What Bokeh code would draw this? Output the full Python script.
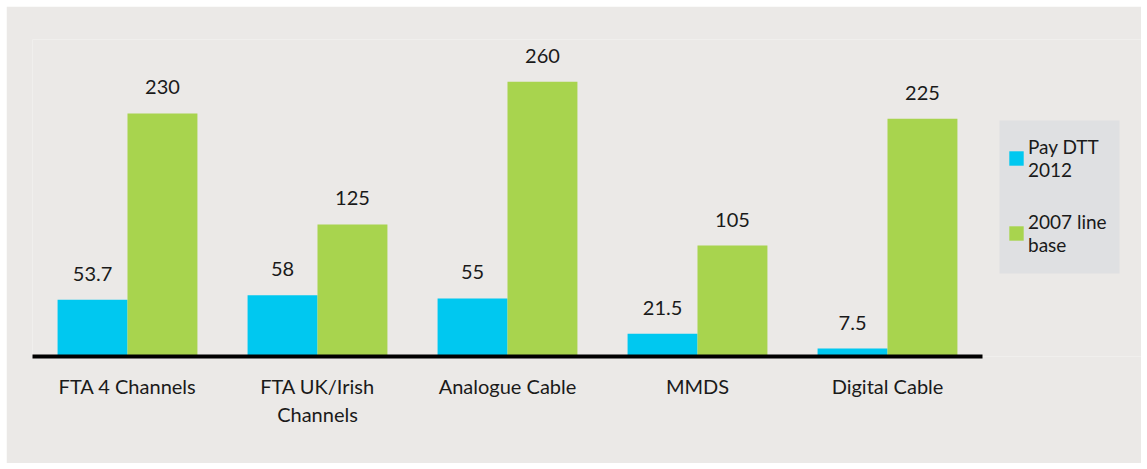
from bokeh.plotting import figure
from bokeh.models import ColumnDataSource, Legend, LegendItem, Range1d, FixedTicker, BoxAnnotation
from bokeh.core.properties import value
from bokeh.embed import file_html
from bokeh.resources import INLINE

categories = ["FTA 4 Channels", "FTA UK/Irish\nChannels", "Analogue Cable", "MMDS", "Digital Cable"]
pay_dtt_2012 = [53.7, 58, 55, 21.5, 7.5]
line_base_2007 = [230, 125, 260, 105, 225]
pay_labels = ["53.7", "58", "55", "21.5", "7.5"]
base_labels = ["230", "125", "260", "105", "225"]
series_names = ["Pay DTT\n2012", "2007 line\nbase"]

BG = "#ebe9e7"
LEGEND_BG = "#dfe0e2"
CYAN = "#00c8f0"
GREEN = "#a8d44e"
FONT = "Lato"

n = len(categories)
centers = [i + 0.5 for i in range(n)]
off = 0.184
w = 0.368
src = ColumnDataSource(dict(
    xp=[c - off for c in centers], xb=[c + off for c in centers],
    pay=pay_dtt_2012, base=line_base_2007, pay_lbl=pay_labels, base_lbl=base_labels))

FRAME_W = 1109
FRAME_H = 317
CAT_PX = 190
Y_MAX = 300
p = figure(x_range=Range1d(0, FRAME_W / CAT_PX), y_range=Range1d(0, Y_MAX),
           width=1135, height=457, output_backend="svg", toolbar_location=None,
           y_axis_location=None,
           min_border_left=26, min_border_right=0, min_border_top=33, min_border_bottom=107)
p.margin = (6, 6, 6, 6)
p.background_fill_color = BG
p.border_fill_color = BG
p.outline_line_color = None
p.grid.visible = False

r1 = p.vbar(x="xp", top="pay", width=w, source=src, fill_color=CYAN, line_color=None)
r2 = p.vbar(x="xb", top="base", width=w, source=src, fill_color=GREEN, line_color=None)

for xcol, ycol, tcol in (("xp", "pay", "pay_lbl"), ("xb", "base", "base_lbl")):
    p.text(x=xcol, y=ycol, text=tcol, source=src,
           text_align="center", text_baseline="alphabetic", y_offset=-26,
           text_font=value(FONT), text_font_size="20px", text_color="#1a1a1a")

ax = p.xaxis[0]
ax.bounds = (0, n)
ax.ticker = FixedTicker(ticks=centers)
ax.major_label_overrides = {c: lbl for c, lbl in zip(centers, categories)}
ax.axis_line_color = "black"
ax.axis_line_width = 4
ax.major_tick_line_color = None
ax.minor_tick_line_color = None
ax.major_label_text_font = FONT
ax.major_label_text_font_size = "20px"
ax.major_label_text_color = "#1a1a1a"
ax.major_label_standoff = 11

# legend panel background (frame-relative pixels converted to data units)
px_x = CAT_PX
px_y = FRAME_H / Y_MAX
legend_box = BoxAnnotation(left=967 / px_x, right=1087 / px_x,
                           bottom=83 / px_y, top=236 / px_y,
                           fill_color=LEGEND_BG, fill_alpha=1.0, line_color=None)
p.add_layout(legend_box)

legend = Legend(items=[LegendItem(label=series_names[0], renderers=[r1]),
                       LegendItem(label=series_names[1], renderers=[r2])],
                location=(975, 100), glyph_width=18, glyph_height=18,
                label_text_font=FONT, label_text_font_size="19px", label_text_color="#1a1a1a",
                background_fill_alpha=0.0,
                border_line_color=None, padding=0, spacing=29, margin=0,
                label_standoff=3)
p.add_layout(legend, "center")

open("out.html", "w").write(file_html(p, INLINE))
